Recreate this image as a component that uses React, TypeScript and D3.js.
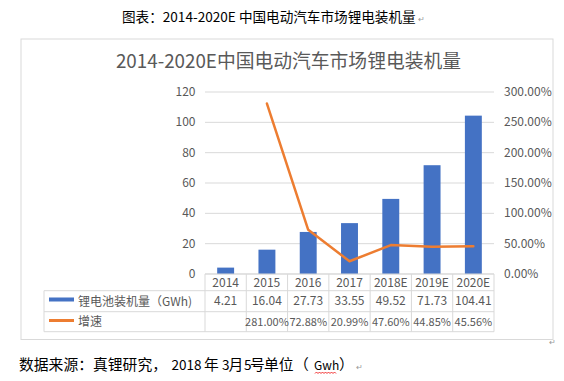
import React from "react";
import * as d3 from "d3";

const categories = ["2014", "2015", "2016", "2017", "2018E", "2019E", "2020E"];
const installed = [4.21, 16.04, 27.73, 33.55, 49.52, 71.73, 104.41];
const installedLabels = ["4.21", "16.04", "27.73", "33.55", "49.52", "71.73", "104.41"];
const growth: (number | null)[] = [null, 2.81, 0.7288, 0.2099, 0.476, 0.4485, 0.4556];
const leftTicks = [0, 20, 40, 60, 80, 100, 120];
const rightTicks = [0, 0.5, 1, 1.5, 2, 2.5, 3];

const W = 564;
const H = 381;
const FONT = "'Noto Sans CJK SC', 'Noto Sans', sans-serif";
const GRAY = "#595959";
const GRID = "#D9D9D9";
const BLUE = "#4472C4";
const ORANGE = "#ED7D31";

export default function App() {
  const x = d3.scaleBand<string>().domain(categories).range([205, 494]).padding(0);
  const yL = d3.scaleLinear().domain([0, 120]).range([274, 92]);
  const yR = d3.scaleLinear().domain([0, 3]).range([274, 92]);
  const bw = x.bandwidth();
  const barW = bw * 0.41;
  const pct = d3.format(".2%");

  const linePts = categories
    .map((c, i) => ({ c, v: growth[i] }))
    .filter((d) => d.v !== null) as { c: string; v: number }[];
  const line = d3
    .line<{ c: string; v: number }>()
    .x((d) => (x(d.c) as number) + bw / 2)
    .y((d) => yR(d.v));

  const rowTop = 274;
  const row1 = 290.7;
  const row2 = 311.7;
  const row3 = 331.7;
  const tableLeft = 44;
  const tableRight = 494;

  return (
    <svg
      width={W}
      height={H}
      style={{ position: "absolute", left: 0, top: 0, background: "#fff" }}
      fontFamily={FONT}
    >
      <rect x={0} y={0} width={W} height={H} fill="#fff" />
      {/* document heading */}
      <text x={122} y={21.5} fontSize={13.6} fill="#000">
        图表：2014-2020E 中国电动汽车市场锂电装机量
      </text>
      <text x={418} y={22} fontSize={8} fill="#999">↵</text>

      {/* chart frame */}
      <rect x={21} y={39} width={532} height={300.5} fill="#fff" stroke={GRID} strokeWidth={1} />
      <text x={288.5} y={68} fontSize={18.8} fill={GRAY} textAnchor="middle">
        2014-2020E中国电动汽车市场锂电装机量
      </text>

      {/* gridlines */}
      {leftTicks.map((t) => (
        <line key={"g" + t} x1={205} x2={494} y1={yL(t)} y2={yL(t)} stroke={GRID} strokeWidth={1} />
      ))}
      {/* left tick labels */}
      {leftTicks.map((t) => (
        <text key={"l" + t} x={195.5} y={yL(t) + 4} fontSize={12} fill={GRAY} textAnchor="end">
          {t}
        </text>
      ))}
      {/* right tick labels */}
      {rightTicks.map((t) => (
        <text key={"r" + t} x={504} y={yR(t) + 4} fontSize={12} fill={GRAY}>
          {pct(t)}
        </text>
      ))}

      {/* bars */}
      {categories.map((c, i) => (
        <rect
          key={"b" + c}
          x={(x(c) as number) + (bw - barW) / 2}
          y={yL(installed[i])}
          width={barW}
          height={yL(0) - yL(installed[i])}
          fill={BLUE}
        />
      ))}

      {/* growth line */}
      <path d={line(linePts) || ""} fill="none" stroke={ORANGE} strokeWidth={2.5} strokeLinejoin="round" strokeLinecap="round" />

      {/* data table */}
      <g stroke={GRID} strokeWidth={1} fill="none">
        <line x1={205} x2={tableRight} y1={rowTop} y2={rowTop} />
        <line x1={tableLeft} x2={tableRight} y1={row1} y2={row1} />
        <line x1={tableLeft} x2={tableRight} y1={row2} y2={row2} />
        <line x1={tableLeft} x2={tableRight} y1={row3} y2={row3} />
        <line x1={tableLeft} x2={tableLeft} y1={row1} y2={row3} />
        {categories.map((c) => (
          <line key={"v" + c} x1={x(c) as number} x2={x(c) as number} y1={rowTop} y2={row3} />
        ))}
        <line x1={tableRight} x2={tableRight} y1={rowTop} y2={row3} />
      </g>
      {categories.map((c, i) => {
        const cx = (x(c) as number) + bw / 2;
        const g = growth[i];
        return (
          <g key={"t" + c} fill={GRAY} textAnchor="middle">
            <text x={cx} y={286.5} fontSize={12}>{c}</text>
            <text x={cx} y={305} fontSize={12}>{installedLabels[i]}</text>
            {g !== null && (
              <text x={cx} y={326} fontSize={11}>{pct(g)}</text>
            )}
          </g>
        );
      })}
      {/* legend keys */}
      <rect x={49} y={297.5} width={25} height={4} fill={BLUE} />
      <line x1={49} x2={74} y1={320.5} y2={320.5} stroke={ORANGE} strokeWidth={3} />
      <text x={78} y={305.5} fontSize={12} fill={GRAY}>锂电池装机量（GWh)</text>
      <text x={78} y={326} fontSize={12} fill={GRAY}>增速</text>

      <text x={549} y={345} fontSize={8} fill="#999">↵</text>

      {/* footer */}
      <g fontSize={14.8} fill="#000">
        <text x={19} y={370}>数据来源：真锂研究，</text>
        <text x={171.5} y={370} fontSize={13.5}>2018</text>
        <text x={204} y={370}>年</text>
        <text x={222} y={370} fontSize={13.5}>3</text>
        <text x={228.5} y={370}>月</text>
        <text x={244} y={370} fontSize={13.5}>5</text>
        <text x={250} y={370}>号</text>
        <text x={264} y={370}>单位</text>
        <text x={294} y={370}>（</text>
        <text x={314} y={370} fontSize={12}>Gwh</text>
        <text x={339} y={370}>）</text>
      </g>
      <path d="M315,373.5 l1.5,-1.5 l1.5,1.5 l1.5,-1.5 l1.5,1.5 l1.5,-1.5 l1.5,1.5 l1.5,-1.5 l1.5,1.5 l1.5,-1.5 l1.5,1.5 l1.5,-1.5 l1.5,1.5 l1.5,-1.5 l1.5,1.5" fill="none" stroke="#E00" strokeWidth={0.8} />
      <text x={356} y={370} fontSize={8} fill="#999">↵</text>
    </svg>
  );
}
